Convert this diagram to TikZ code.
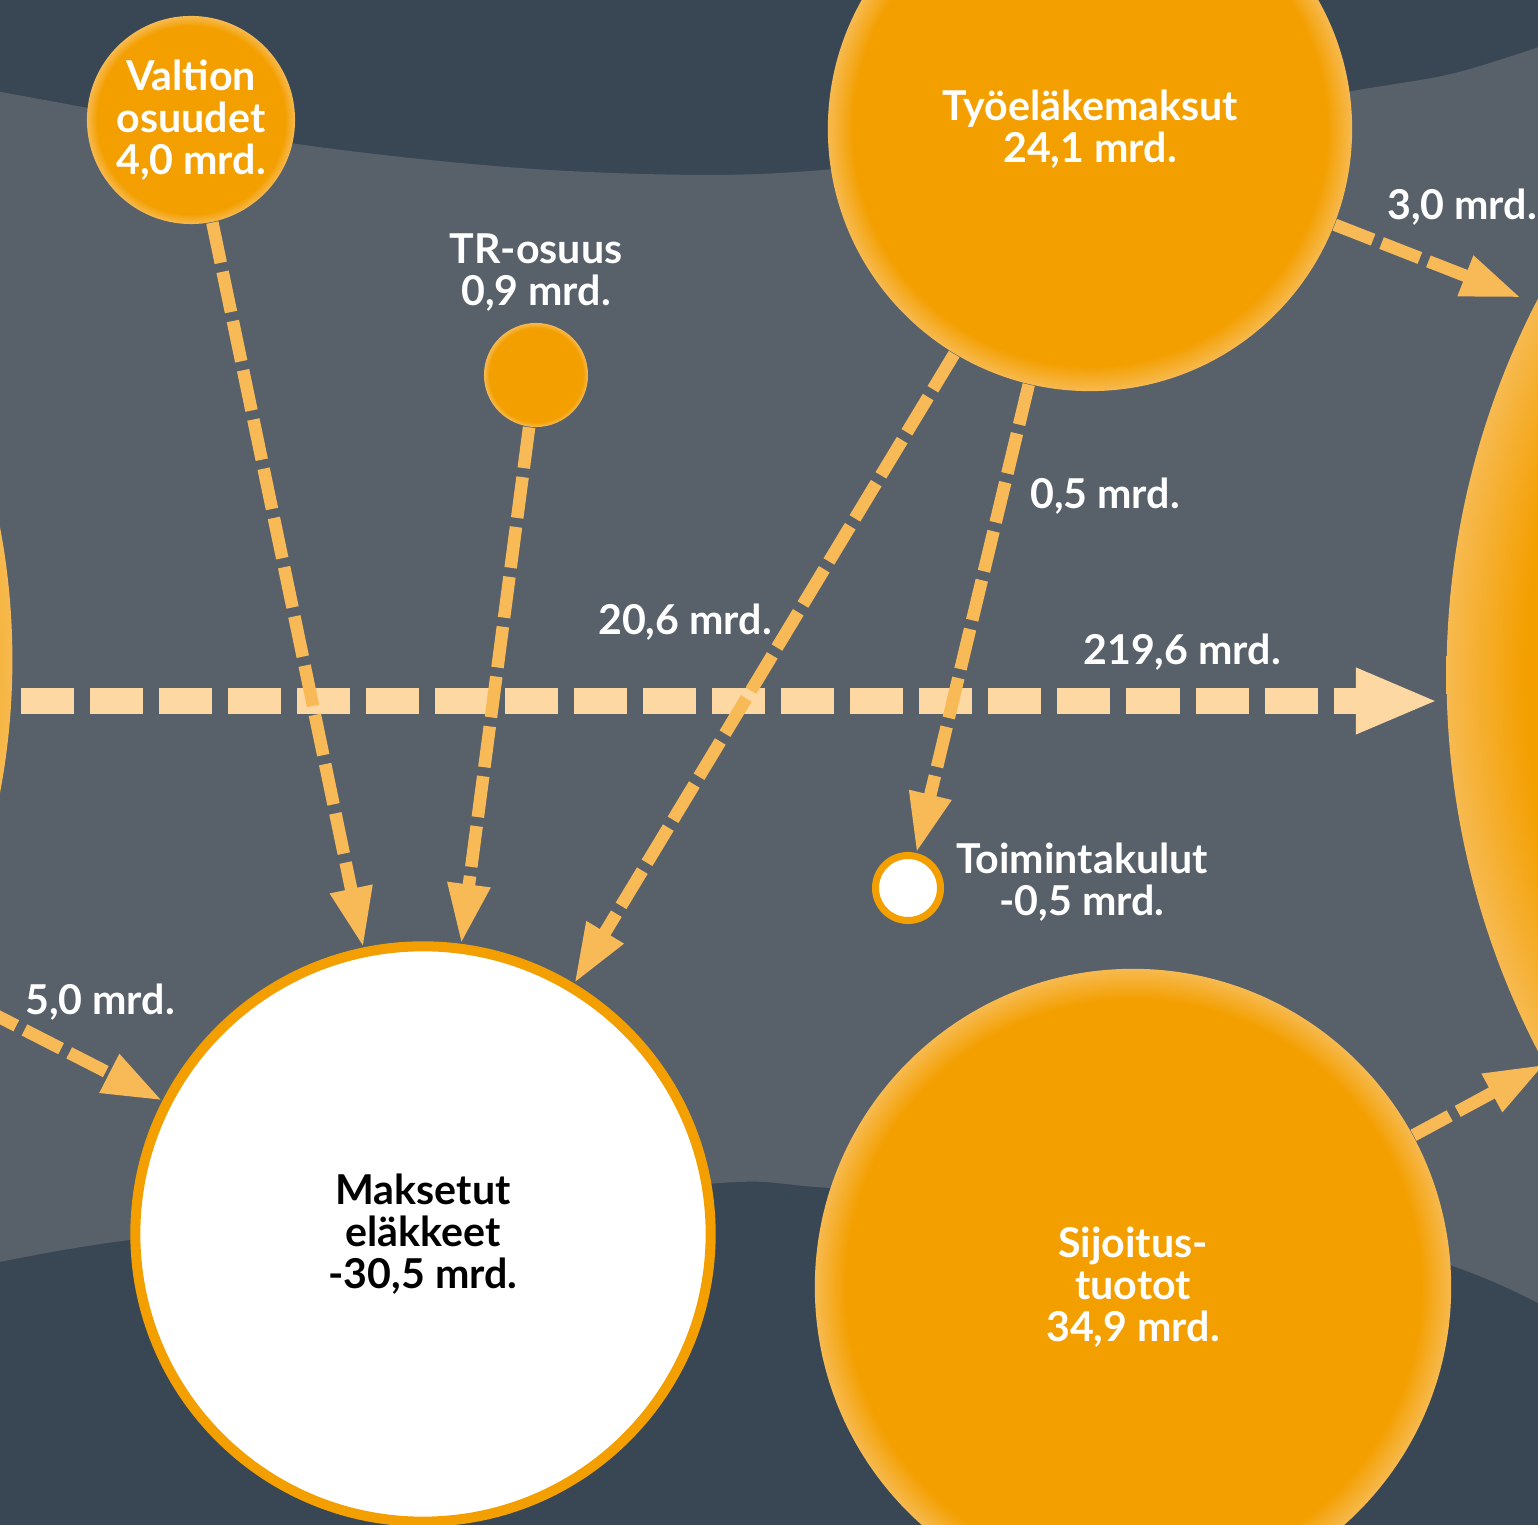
\documentclass[tikz,border=0pt]{standalone}
\usepackage{fontspec}
\setmainfont{Lato}
\usetikzlibrary{arrows.meta,positioning}

\definecolor{slate}{RGB}{57,71,85}
\definecolor{grain}{RGB}{88,96,106}
\definecolor{orng}{RGB}{243,159,0}
\definecolor{orngl}{RGB}{247,186,80}
\definecolor{arrorng}{RGB}{248,186,87}
\definecolor{peach}{RGB}{253,216,162}

\pgfdeclareradialshading{rim}{\pgfpoint{0bp}{0bp}}{color(0bp)=(orng); color(22.6bp)=(orng); color(25bp)=(orngl); color(50bp)=(orngl)}
\newcommand\lblfont{\fontsize{11.7}{11.95}\selectfont\bfseries}

\tikzset{
  bubble/.style={circle, shade, shading=rim, draw=none, inner sep=0pt, align=center, text=white, font=\lblfont},
  outbubble/.style={circle, fill=white, draw=orng, inner sep=0pt, align=center, text=black, font=\lblfont},
  amount/.style={text=white, align=center, inner sep=0pt, font=\lblfont},
  payflow/.style={draw=arrorng, line width=3.56pt, dash pattern=on 11.7pt off 2.6pt,
    -{Triangle[length=17pt,width=11.4pt]}},
  mainflow/.style={draw=peach, line width=7.4pt, dash pattern=on 15.1pt off 4.55pt,
    -{Triangle[length=23.6pt,width=17.1pt]}}
}

\begin{document}
\begin{tikzpicture}[x=0.01cm, y=-0.01cm]
  \useasboundingbox (0,0) rectangle (1538,1525);
  \clip (0,0) rectangle (1538,1525);
  \fill[slate] (0,0) rectangle (1538,1525);
  % speckled band
  \fill[grain] plot[smooth] coordinates {(-20,88) (290,143) (534,169) (760,174) (1000,150) (1346,92) (1455,73) (1560,40)}
    -- (1560,1310)
    -- plot[smooth] coordinates {(1538,1303) (1422,1257) (1150,1210) (830,1188) (720,1183) (420,1215) (130,1240) (-20,1266)}
    -- cycle;

  % circles
  \node[bubble, minimum size=14.2cm] (lcirc) at (-698,660) {};
  \node[bubble, minimum size=16.36cm] (rcirc) at (2265,675) {};
  \node[bubble, minimum size=2.08cm] (valtio) at (191,120) {Valtion\\osuudet\\4,0 mrd.};
  \node[bubble, minimum size=1.04cm] (tr) at (536,375) {};
  \node[bubble, minimum size=5.24cm] (tyo) at (1090,129) {Työeläkemaksut\\24,1 mrd.};
  \node[bubble, minimum size=6.36cm] (sijoit) at (1133,1287) {Sijoitus-\\tuotot\\34,9 mrd.};
  \node[outbubble, line width=2.85pt, minimum size=5.75cm] (maks) at (423,1234) {Maksetut\\eläkkeet\\-30,5 mrd.};
  \node[outbubble, line width=2pt, minimum size=0.65cm] (kulut) at (908,888) {};

  % labels
  \node[amount] (trlab) at (536,273) {TR-osuus\\0,9 mrd.};
  \node[amount] (kululab) at (1082,882) {Toimintakulut\\-0,5 mrd.};
  \node[amount] (lab30) at (1462,207) {3,0 mrd.};
  \node[amount] (lab05) at (1105,496) {0,5 mrd.};
  \node[amount] (lab206) at (685,622) {20,6 mrd.};
  \node[amount] (lab2196) at (1182,652) {219,6 mrd.};
  \node[amount] (lab50) at (100,1002) {5,0 mrd.};

  % flows
  \coordinate (flowy) at (0,701);
  \draw[mainflow, shorten <=2.2pt, shorten >=2pt] (lcirc.east |- flowy) -- (rcirc.west |- flowy);
  \draw[payflow] (valtio) -- (maks);
  \draw[payflow] (tr) -- (maks);
  \draw[payflow] (tyo) -- (maks);
  \draw[payflow] (tyo) -- (kulut);
  \draw[payflow, shorten >=4.3pt] (tyo) -- (rcirc.153.5);
  \draw[payflow] (lcirc) -- (maks);
  \draw[payflow] (sijoit) -- (rcirc);
\end{tikzpicture}
\end{document}
